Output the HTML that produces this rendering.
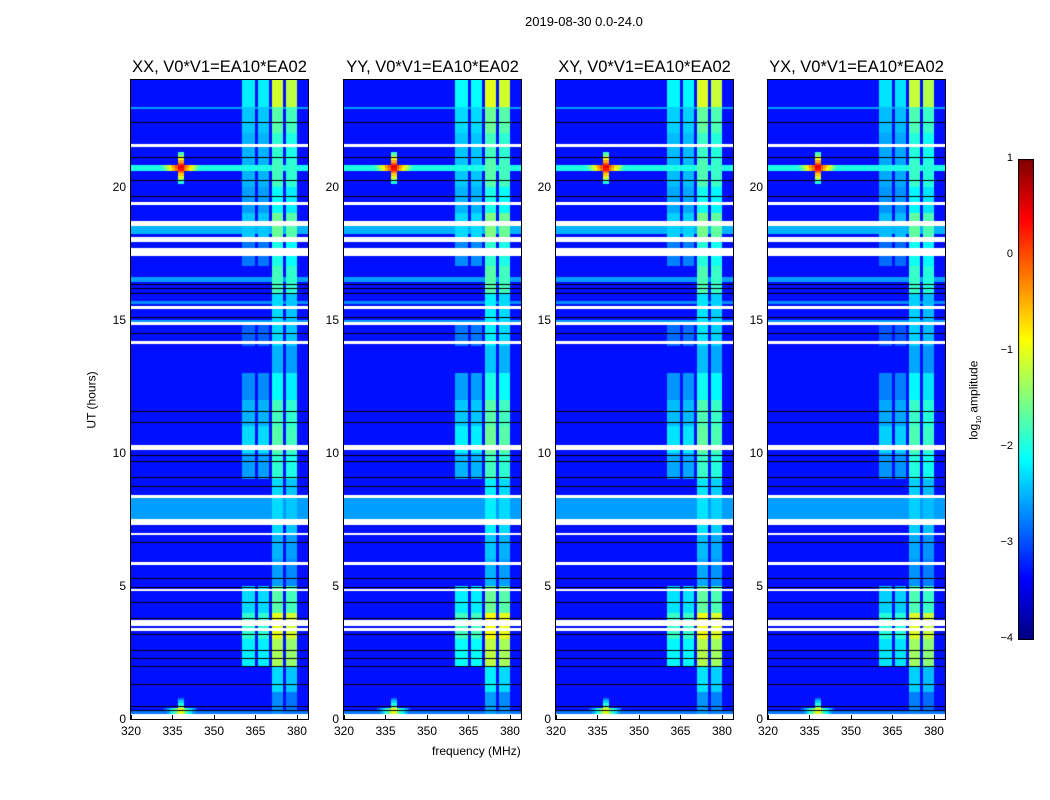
<!DOCTYPE html>
<html><head><meta charset="utf-8">
<style>
body{margin:0;background:#fff;width:1050px;height:800px;overflow:hidden;font-family:"Liberation Sans",sans-serif;}
#root{position:relative;width:1050px;height:800px;}
.t{position:absolute;font-size:12px;color:#000;white-space:nowrap;}
.title{position:absolute;font-size:16.5px;white-space:nowrap;transform:translateX(-50%);}
canvas{position:absolute;}
</style></head>
<body><div id="root">
<div class="t" style="left:525px;top:14px;font-size:13px;">2019-08-30 0.0-24.0</div>
<div class="t" style="left:432px;top:744px;font-size:12px;">frequency (MHz)</div>
<div class="t" style="left:63px;top:393px;transform:rotate(-90deg);font-size:12px;">UT (hours)</div>
<div class="t" style="left:935px;top:392px;transform:rotate(-90deg);font-size:12px;">log<sub style="font-size:7px">10</sub> amplitude</div>
<canvas id="cb" width="16" height="481" style="left:1018px;top:159px;"></canvas>
</div>
<script>
// ---- data ----
const panelNames = ["XX, V0*V1=EA10*EA02","YY, V0*V1=EA10*EA02","XY, V0*V1=EA10*EA02","YX, V0*V1=EA10*EA02"];
const panelGain = [0, 0.1, 0.05, -0.05];
const freqMin = 320, freqMax = 384, nChan = 64, nRows = 240, hourMax = 24;
const xTicks = [320,335,350,365,380];
const yTicks = [0,5,10,15,20];
const cbTicks = [1,0,-1,-2,-3,-4];
const background = -3.3;
// channel group per 1 MHz channel starting at 320 (0 none, 1 group A, 2 group B)
const chanGroup = [0,0,0,0,0,0,0,0,0,0, 0,0,0,0,0,0,0,0,0,0, 0,0,0,0,0,0,0,0,0,0, 0,0,0,0,0,0,0,0,0,0,
  1,1,1,1,1,0,1,1,1,1, 0,2,2,2,2,0,2,2,2,2, 0,0,0,0];
// hourly activity of band groups (log10 amplitude, -9 = none)
const groupA = [-9,-9,-2.2,-1.9,-2.3,-9,-9,-9,-9,-2.6,-2.3,-2.5,-2.7,-9,-2.9,-9,-9,-2.8,-2.4,-2.6,-2.5,-2.5,-2.4,-2.2];
const groupB = [-2.8,-2.4,-1.4,-1.1,-1.8,-2.7,-2.6,-2.4,-2.4,-2.0,-1.8,-1.9,-2.2,-2.6,-2.4,-2.4,-1.9,-2.1,-1.7,-2.2,-1.9,-2.0,-1.8,-1.2];
// flagged (white) intervals in hours
const whiteIntervals = [[0.03,0.2],[1.48,1.54],[1.69,1.73],[3.01,3.05],[3.33,3.38],[3.52,3.58],[3.63,3.68],[4.82,4.86],[5.82,5.86],
 [6.94,6.98],[7.08,7.12],[7.32,7.36],[7.4,7.5],[8.35,8.45],[10.12,10.34],[11.76,11.8],[12.48,12.52],[13.18,13.22],[14.1,14.25],
 [14.85,14.95],[15.3,15.34],[15.42,15.46],[15.8,15.85],[17.1,17.14],[17.2,17.24],[17.4,17.7],[17.78,17.82],[17.9,18.06],[18.5,18.7],
 [19.33,19.37],[21.5,21.6],[21.71,21.75],[22.0,22.04],[22.79,22.85]];
// dark (black) line times
const darkLines = [0.35,0.5,1.3,2.0,2.3,2.6,3.2,3.8,4.38,4.96,5.28,6.65,8.75,9.1,9.7,9.9,11.15,11.57,14.5,15.1,16.0,16.2,16.35,19.64,20.26,21.1,22.42];
// bright full-band rows [start,end,level]
const brightRows = [[7.5,8.3,-2.6],[16.45,16.6,-2.6],[15.6,15.75,-2.7],[14.95,15.05,-2.6],[18.16,18.5,-2.5],[22.9,23.0,-2.6],[0.2,0.3,-2.8],[20.6,20.85,-2.0]];
// RFI source [freq, hour, peak]
const rfiFreq = [338, 338];
const rfiHour = [20.72, 0.3];
const rfiPeak = [0.6, -0.8];

function jet(v){ // v in [-4,1]
  let x=Math.max(0,Math.min(1,(v+4)/5));
  const r=Math.max(0,Math.min(1,1.5-Math.abs(4*x-3)));
  const g=Math.max(0,Math.min(1,1.5-Math.abs(4*x-2)));
  const b=Math.max(0,Math.min(1,1.5-Math.abs(4*x-1)));
  return `rgb(${Math.round(r*255)},${Math.round(g*255)},${Math.round(b*255)})`;
}
const root=document.getElementById('root');
const panelLeft=[131,344,556,768], pw=177, topY=80, ph=639;
function xs(f,L){return L+(f-freqMin)/(freqMax-freqMin)*pw;}
function ys(h){return topY+ph-(h/hourMax)*ph;}
function inInt(h,arr){for(const a of arr) if(h>=a[0]&&h<a[1]) return true; return false;}

panelLeft.forEach((L,p)=>{
  const c=document.createElement('canvas');
  
  
  c.width=pw;c.height=ph;c.style.left=L+'px';c.style.top=topY+'px';
  c.style.outline='1px solid #000';
  root.appendChild(c);
  const ctx=c.getContext('2d');
  for(let r=0;r<nRows;r++){
    const h0=r*hourMax/nRows, h=h0+0.05;
    const y0=Math.round(ys(h0+hourMax/nRows)-topY), y1=Math.round(ys(h0)-topY);
    if(inInt(h,whiteIntervals)){ctx.fillStyle='#fff';ctx.fillRect(0,y0,pw,y1-y0);continue;}
    let rowLv=-9; for(const b of brightRows) if(h>=b[0]&&h<b[1]) rowLv=Math.max(rowLv,b[2]);
    const hr=Math.min(23,Math.floor(h));
    for(let ch=0;ch<nChan;ch++){
      const f=freqMin+ch+0.5;
      let v=background;
      if(rowLv>v) v=rowLv;
      const g=chanGroup[ch];
      if(g===1) v=Math.max(v,groupA[hr]+panelGain[p]);
      if(g===2) v=Math.max(v,groupB[hr]+panelGain[p]+(ch>=56?0:0.1));
      for(let k=0;k<rfiFreq.length;k++){
        const df=Math.abs(f-rfiFreq[k]), dh=Math.abs(h-rfiHour[k]);
        const s=rfiPeak[k]-df*0.35-dh*4;
        if(df<1&&dh<0.6) v=Math.max(v,rfiPeak[k]-dh*4.5);
        if(dh<0.08) v=Math.max(v,s);
      }
      const x0=Math.round(xs(f-0.5,0)), x1=Math.round(xs(f+0.5,0));
      ctx.fillStyle=jet(v);ctx.fillRect(x0,y0,x1-x0,y1-y0);
    }
  }
  ctx.fillStyle='#000';
  for(const d of darkLines){ctx.fillRect(0,Math.round(ys(d)-topY),pw,1);}
  const t=document.createElement('div');t.className='title';
  
  
  t.textContent=panelNames[p];t.style.left=(L+pw/2)+'px';t.style.top='58px';root.appendChild(t);
  xTicks.forEach(v=>{
    const d=document.createElement('div');d.className='t';
    
    
    d.textContent=v;d.style.left=(xs(v,L)-10)+'px';d.style.top='724px';root.appendChild(d);
    const m=document.createElement('div');
    
    
    m.style.cssText=`position:absolute;left:${Math.round(xs(v,L))}px;top:${topY+ph-4}px;width:1px;height:4px;background:#000`;root.appendChild(m);
  });
  yTicks.forEach(v=>{
    const d=document.createElement('div');d.className='t';
    
    
    d.textContent=v;d.style.left=(L-5)+'px';d.style.transform='translateX(-100%)';d.style.top=(ys(v)-7)+'px';root.appendChild(d);
  });
});
const cb=document.getElementById('cb').getContext('2d');
for(let i=0;i<480;i++){cb.fillStyle=jet(1-i/480*5);cb.fillRect(0,i,16,1);}
cb.strokeStyle='#000';cb.strokeRect(0.5,0.5,15,480);
cbTicks.forEach(v=>{
  const y=160+(1-v)/5*480;
  const d=document.createElement('div');d.className='t';
  
  
  d.textContent=v<0?'\u2212'+(-v):v;d.style.left='1013px';d.style.transform='translateX(-100%)';d.style.top=(y-8)+'px';d.style.fontSize='11px';root.appendChild(d);
});
</script>
</body></html>
